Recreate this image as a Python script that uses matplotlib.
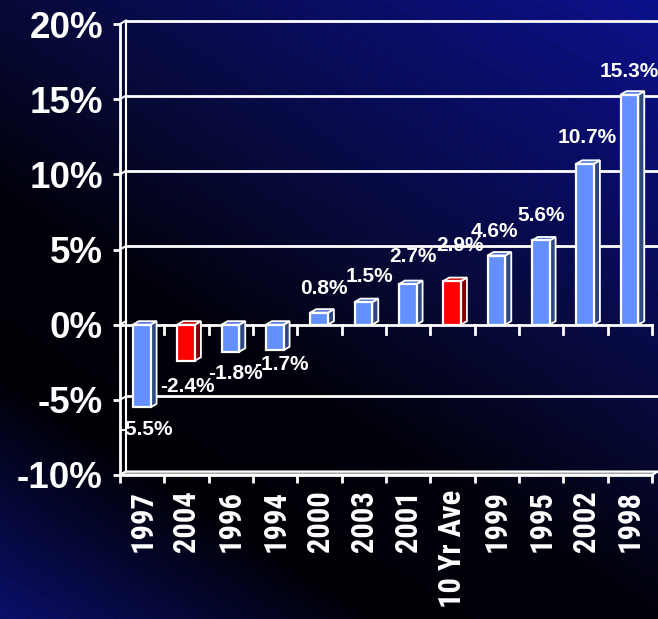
import numpy as np
import matplotlib
matplotlib.use("Agg")
import matplotlib.pyplot as plt
from matplotlib import font_manager
from matplotlib.patches import Polygon

# ---------------- data ----------------
categories = ["1997", "2004", "1996", "1994", "2000", "2003", "2001",
              "10 Yr Ave", "1999", "1995", "2002", "1998"]
values = [-5.5, -2.4, -1.8, -1.7, 0.8, 1.5, 2.7, 2.9, 4.6, 5.6, 10.7, 15.3]
highlight = [False, True, False, False, False, False, False, True,
             False, False, False, False]
y_ticks = [-10, -5, 0, 5, 10, 15, 20]
y_tick_labels = ["-10%", "-5%", "0%", "5%", "10%", "15%", "20%"]

# label nudges in pixels (dx, distance from bar end) - styling only
label_nudge = [(3.5, 13), (1, 16), (5.5, 12), (7, 5), (5, 19), (6.5, 20),
               (5, 22), (8, 30), (-2, 19), (0, 19), (2, 21), (0, 18)]

# ---------------- fonts ----------------
avail = {f.name for f in font_manager.fontManager.ttflist}
main_font = "Liberation Sans" if "Liberation Sans" in avail else "DejaVu Sans"
xfont, xsize = main_font, 19
for cand, size in [("Liberation Sans Narrow", 23), ("Roboto Condensed", 22),
                   ("Open Sans Condensed", 22)]:
    if cand in avail:
        xfont, xsize = cand, size
        break

W, H, DPI = 658, 619, 100
fig = plt.figure(figsize=(W / DPI, H / DPI), dpi=DPI)

# ---------------- background gradient ----------------
yy, xx = np.mgrid[0:H, 0:W].astype(float)
s = (xx * 289 - (yy - 330) * 450) / 535.0
stops = [-260, -140, -40, 120, 280, 400, 650]
r = [12, 6, 0, 1, 8, 9, 12]
g = [16, 8, 0, 1, 10, 12, 18]
b = [115, 55, 6, 12, 58, 88, 146]
img = np.stack([np.interp(s, stops, r), np.interp(s, stops, g),
                np.interp(s, stops, b)], axis=-1) / 255.0
stripe = ((xx * 0.5 - yy) % 11.0) < 1.3
img = img * np.where(stripe, 0.87, 1.0)[..., None]
bg = fig.add_axes([0, 0, 1, 1])
bg.imshow(img, aspect="auto", interpolation="nearest")
bg.axis("off")
bg.set_zorder(-10)

# ---------------- main axes ----------------
ax = fig.add_axes([120 / W, 1 - 475 / H, 532 / W, 451 / H])
n = len(categories)
ax.set_xlim(0, n)
ax.set_ylim(-10, 20)
ax.patch.set_visible(False)
for sp in ["top", "right", "bottom"]:
    ax.spines[sp].set_visible(False)
ax.spines["left"].set_color("white")
ax.spines["left"].set_linewidth(2)

fig.canvas.draw()
bb = ax.get_window_extent()
pxx = bb.width / n
pxy = bb.height / 30.0
DX, DY = 6 / pxx, 3.5 / pxy  # depth offsets in data units

white = "white"
# back wall grid lines and connectors
for yv in [-5, 5, 10, 15, 20]:
    ax.plot([DX, n + DX], [yv + DY, yv + DY], color=white,
            lw=2, clip_on=False, zorder=1)
for yv in y_ticks:
    ax.plot([0, DX], [yv, yv + DY], color=white, lw=1.5, clip_on=False, zorder=1)
ax.plot([DX, DX], [-10 + DY, 20 + DY], color=white, lw=1.5, clip_on=False, zorder=1)

# floor
floor = Polygon([(0, -10), (n, -10), (n + DX, -10 + DY), (DX, -10 + DY)],
                closed=True, facecolor="#A0A0A0", edgecolor=white, lw=1.5,
                clip_on=False, zorder=2)
ax.add_patch(floor)

# zero line with ticks
ax.plot([0, n], [0, 0], color=white, lw=2, clip_on=False, zorder=2)
for k in range(1, n + 1):
    ax.plot([k, k], [0, -9 / pxy], color=white, lw=2, clip_on=False, zorder=2)

# bars
bw = 0.40
off = 0.29
for i, (v, hl) in enumerate(zip(values, highlight)):
    front = "#FF0000" if hl else "#6490FF"
    side = "#800000" if hl else "#2E4780"
    top = "#C80000" if hl else "#4E74DA"
    x0, x1 = i + off, i + off + bw
    lo, hi = min(0, v), max(0, v)
    ax.add_patch(Polygon([(x1, lo), (x1 + DX, lo + DY), (x1 + DX, hi + DY), (x1, hi)],
                         closed=True, facecolor=side, edgecolor=white, lw=1.3,
                         zorder=3, clip_on=False))
    ax.add_patch(Polygon([(x0, hi), (x1, hi), (x1 + DX, hi + DY), (x0 + DX, hi + DY)],
                         closed=True, facecolor=top, edgecolor=white, lw=1.3,
                         zorder=3, clip_on=False))
    ax.add_patch(Polygon([(x0, lo), (x1, lo), (x1, hi), (x0, hi)],
                         closed=True, facecolor=front, edgecolor=white, lw=1.6,
                         zorder=4, clip_on=False))
    ndx, ndy = label_nudge[i]
    cx = i + off + bw / 2
    if v >= 0:
        ax.annotate(f"{v:.1f}%", (cx, v), xytext=(ndx * 0.72, ndy * 0.72),
                    textcoords="offset points", ha="center", va="baseline",
                    color=white, fontsize=15, fontweight="bold",
                    family=main_font, zorder=6, annotation_clip=False)
    else:
        ax.annotate(f"{v:.1f}%", (cx, v), xytext=(ndx * 0.72, -ndy * 0.72),
                    textcoords="offset points", ha="center", va="top",
                    color=white, fontsize=15, fontweight="bold",
                    family=main_font, zorder=6, annotation_clip=False)

# x axis front line at -10 (drawn over floor)
ax.plot([0, n], [-10, -10], color=white, lw=2, clip_on=False, zorder=3)

# ticks and labels
ax.set_yticks(y_ticks)
ax.set_yticklabels(y_tick_labels)
ax.tick_params(axis="y", colors=white, length=7 * 0.72, width=2, pad=10 * 0.72,
               labelsize=26.5)
for t in ax.get_yticklabels():
    t.set_fontweight("bold")
    t.set_family(main_font)

ax.set_xticks(np.arange(n) + 0.5)
ax.set_xticklabels(categories, rotation=90)
ax.set_xticks(np.arange(0, n + 1), minor=True)
ax.tick_params(axis="x", which="major", length=0, pad=15 * 0.72,
               colors=white, labelsize=xsize)
ax.tick_params(axis="x", which="minor", length=8 * 0.72, width=2, colors=white)
for t in ax.get_xticklabels():
    t.set_fontweight("bold")
    t.set_family(xfont)
    t.set_va("top")

fig.savefig("out.png", dpi=DPI)
